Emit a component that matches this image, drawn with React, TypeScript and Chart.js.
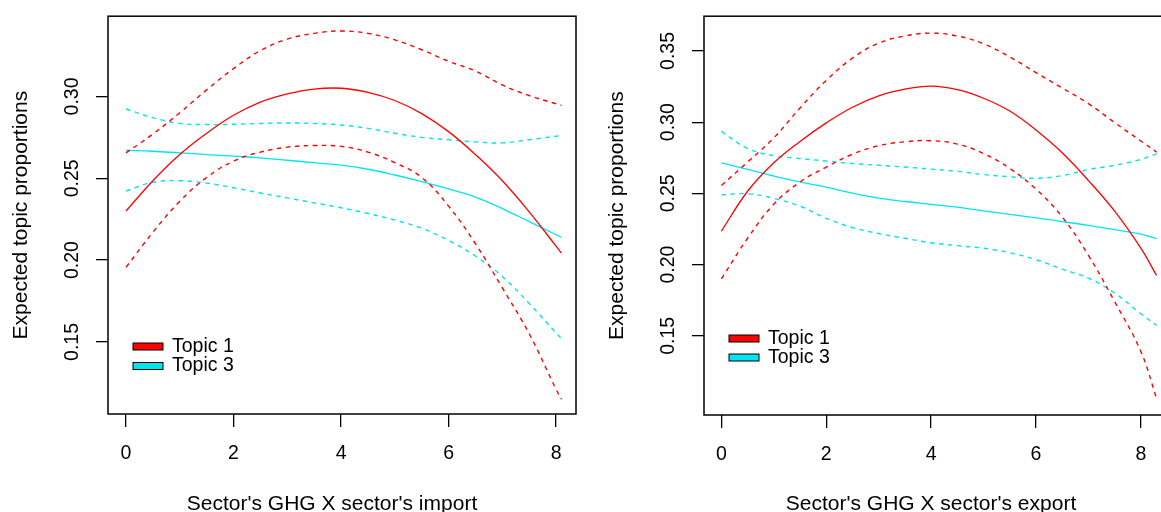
import { useEffect, useRef } from "react";
import { Chart, registerables } from "chart.js";

Chart.register(...registerables);

const FONT = '"Liberation Sans", Arial, Helvetica, sans-serif';

// ---- shared ----
const SERIES_NAMES = ["Topic 1", "Topic 3"];
const SERIES_COLORS = ["#FF0000", "#00E5EE"];
const X_TICKS = [0, 2, 4, 6, 8];
const Y_TITLE = "Expected topic proportions";

// ---- panel 1: import ----
const IMPORT_TITLE = "Sector's GHG X sector's import";
const IMPORT_X_RANGE = [-0.335, 8.37];
const IMPORT_Y_RANGE = [0.106, 0.349];
const IMPORT_Y_TICKS = [0.15, 0.2, 0.25, 0.3];
const IMPORT_X = [0, 0.5, 1, 1.5, 2, 2.5, 3, 3.5, 4, 4.5, 5, 5.5, 6, 6.5, 7, 7.5, 8, 8.1];
const IMPORT_T1_MEAN = [0.230, 0.2485, 0.2645, 0.2775, 0.2885, 0.2965, 0.3015, 0.3045, 0.305, 0.3025, 0.2975, 0.2895, 0.2785, 0.2645, 0.2485, 0.2295, 0.2085, 0.2043];
const IMPORT_T1_UPPER = [0.2655, 0.277, 0.290, 0.304, 0.317, 0.328, 0.335, 0.3385, 0.340, 0.3385, 0.3345, 0.3285, 0.3215, 0.3155, 0.307, 0.3005, 0.2955, 0.2945];
const IMPORT_T1_LOWER = [0.1956, 0.217, 0.236, 0.2505, 0.2605, 0.266, 0.269, 0.270, 0.2695, 0.266, 0.2595, 0.2505, 0.233, 0.210, 0.183, 0.155, 0.121, 0.115];
const IMPORT_T3_MEAN = [0.267, 0.2665, 0.2655, 0.2645, 0.2635, 0.2625, 0.261, 0.2595, 0.258, 0.2555, 0.252, 0.248, 0.2435, 0.2385, 0.2315, 0.2235, 0.2155, 0.2138];
const IMPORT_T3_UPPER = [0.2923, 0.287, 0.2835, 0.2828, 0.283, 0.2835, 0.2838, 0.2835, 0.2825, 0.2805, 0.2775, 0.275, 0.2735, 0.2722, 0.2716, 0.2735, 0.2757, 0.2761];
const IMPORT_T3_LOWER = [0.2422, 0.2475, 0.2485, 0.247, 0.2442, 0.241, 0.238, 0.235, 0.232, 0.2285, 0.2245, 0.2195, 0.212, 0.2025, 0.190, 0.1735, 0.1555, 0.152];

// ---- panel 2: export ----
const EXPORT_TITLE = "Sector's GHG X sector's export";
const EXPORT_X_RANGE = [-0.332, 8.632];
const EXPORT_Y_RANGE = [0.0944, 0.3744];
const EXPORT_Y_TICKS = [0.15, 0.2, 0.25, 0.3, 0.35];
const EXPORT_X = [0, 0.5, 1, 1.5, 2, 2.5, 3, 3.5, 4, 4.5, 5, 5.5, 6, 6.5, 7, 7.5, 8, 8.3];
const EXPORT_T1_MEAN = [0.2235, 0.2515, 0.2715, 0.2865, 0.2995, 0.3105, 0.3185, 0.3232, 0.3253, 0.3228, 0.3168, 0.3078, 0.2945, 0.2785, 0.259, 0.2375, 0.2115, 0.1924];
const EXPORT_T1_UPPER = [0.2556, 0.272, 0.289, 0.310, 0.3293, 0.345, 0.3555, 0.3605, 0.3625, 0.3605, 0.355, 0.3458, 0.3348, 0.324, 0.313, 0.2997, 0.2868, 0.279];
const EXPORT_T1_LOWER = [0.190, 0.2185, 0.2425, 0.258, 0.2684, 0.2775, 0.2835, 0.2862, 0.287, 0.2846, 0.278, 0.2675, 0.253, 0.2335, 0.2065, 0.174, 0.139, 0.106];
const EXPORT_T3_MEAN = [0.2715, 0.2668, 0.2622, 0.258, 0.2544, 0.2502, 0.2467, 0.2443, 0.2423, 0.2403, 0.2377, 0.2352, 0.2328, 0.2302, 0.2275, 0.2245, 0.2214, 0.2182];
const EXPORT_T3_UPPER = [0.2935, 0.2815, 0.2765, 0.2745, 0.2727, 0.271, 0.2697, 0.2685, 0.267, 0.2655, 0.2632, 0.2617, 0.2606, 0.2625, 0.2667, 0.2697, 0.2738, 0.2778];
const EXPORT_T3_LOWER = [0.249, 0.2497, 0.2465, 0.241, 0.2325, 0.226, 0.2218, 0.2185, 0.2153, 0.2133, 0.2115, 0.2083, 0.2035, 0.1968, 0.1905, 0.180, 0.1655, 0.1573];

const CANVAS_H = 520;

type PanelCfg = {
  left: number;
  width: number;
  boxTop: number;
  boxBottom: number;
  boxLeft: number;
  boxRight: number;
  xs: number[];
  series: { mean: number[]; upper: number[]; lower: number[] }[];
  xRange: number[];
  yRange: number[];
  yTicks: number[];
  xTitle: string;
  xTitleShift: number;
  legendRowsFromBottom: number[];
};

const PANELS: PanelCfg[] = [
  {
    left: 0,
    width: 590,
    boxTop: 14,
    boxBottom: 414,
    boxLeft: 108,
    boxRight: 576,
    xs: IMPORT_X,
    series: [
      { mean: IMPORT_T1_MEAN, upper: IMPORT_T1_UPPER, lower: IMPORT_T1_LOWER },
      { mean: IMPORT_T3_MEAN, upper: IMPORT_T3_UPPER, lower: IMPORT_T3_LOWER },
    ],
    xRange: IMPORT_X_RANGE,
    yRange: IMPORT_Y_RANGE,
    yTicks: IMPORT_Y_TICKS,
    xTitle: IMPORT_TITLE,
    xTitleShift: -10,
    legendRowsFromBottom: [67.5, 48],
  },
  {
    left: 596,
    width: 600,
    boxTop: 16,
    boxBottom: 415,
    boxLeft: 108,
    boxRight: 578,
    xs: EXPORT_X,
    series: [
      { mean: EXPORT_T1_MEAN, upper: EXPORT_T1_UPPER, lower: EXPORT_T1_LOWER },
      { mean: EXPORT_T3_MEAN, upper: EXPORT_T3_UPPER, lower: EXPORT_T3_LOWER },
    ],
    xRange: EXPORT_X_RANGE,
    yRange: EXPORT_Y_RANGE,
    yTicks: EXPORT_Y_TICKS,
    xTitle: EXPORT_TITLE,
    xTitleShift: -8,
    legendRowsFromBottom: [76.5, 57.5],
  },
];

const framePlugin = {
  id: "rframe",
  afterDraw(chart: any, _args: any, opts: any) {
    const { ctx, chartArea: a } = chart;
    ctx.save();
    ctx.strokeStyle = "#000";
    ctx.lineWidth = 1.5;
    ctx.strokeRect(a.left, a.top, a.right - a.left, a.bottom - a.top);

    // legend
    ctx.font = `19.5px ${FONT}`;
    ctx.textBaseline = "middle";
    ctx.textAlign = "left";
    SERIES_NAMES.forEach((name, i) => {
      const cy = a.bottom - opts.legendRowsFromBottom[i];
      const bx = a.left + 25;
      ctx.fillStyle = SERIES_COLORS[i];
      ctx.fillRect(bx, cy - 3.5, 30, 7);
      ctx.lineWidth = 1;
      ctx.strokeStyle = "#000";
      ctx.strokeRect(bx, cy - 3.5, 30, 7);
      ctx.fillStyle = "#000";
      ctx.fillText(name, bx + 39, cy);
    });

    // x title
    ctx.font = `21px ${FONT}`;
    ctx.textAlign = "center";
    ctx.fillText(opts.xTitle, (a.left + a.right) / 2 + opts.xTitleShift, 504);
    ctx.restore();
  },
};

function Panel({ cfg }: { cfg: PanelCfg }) {
  const ref = useRef<HTMLCanvasElement>(null);
  useEffect(() => {
    const datasets: any[] = [];
    cfg.series.forEach((s, i) => {
      const color = SERIES_COLORS[i];
      const mk = (vals: number[], dashed: boolean, label: string) => ({
        label,
        data: cfg.xs.map((x, k) => ({ x, y: vals[k] })),
        borderColor: color,
        backgroundColor: color,
        borderWidth: dashed ? 1.4 : 1.3,
        borderDash: dashed ? [4.5, 4.5] : [],
        pointRadius: 0,
        fill: false,
        tension: 0.4,
      });
      datasets.push(mk(s.mean, false, SERIES_NAMES[i]));
      datasets.push(mk(s.upper, true, SERIES_NAMES[i] + " upper"));
      datasets.push(mk(s.lower, true, SERIES_NAMES[i] + " lower"));
    });

    const chart = new Chart(ref.current!, {
      type: "line",
      data: { datasets },
      plugins: [framePlugin],
      options: {
        animation: false,
        responsive: false,
        events: [],
        layout: {
          padding: {
            left: 0,
            top: cfg.boxTop,
            right: cfg.width - cfg.boxRight,
            bottom: 0,
          },
        },
        plugins: {
          legend: { display: false },
          tooltip: { enabled: false },
          rframe: {
            xTitle: cfg.xTitle,
            xTitleShift: cfg.xTitleShift,
            legendRowsFromBottom: cfg.legendRowsFromBottom,
          },
        } as any,
        scales: {
          x: {
            type: "linear",
            min: cfg.xRange[0],
            max: cfg.xRange[1],
            afterBuildTicks: (s: any) => {
              s.ticks = X_TICKS.map((v) => ({ value: v }));
            },
            afterFit: (s: any) => {
              s.height = CANVAS_H - cfg.boxBottom;
            },
            border: { display: false },
            grid: {
              drawOnChartArea: false,
              drawTicks: true,
              tickLength: 13,
              color: "#000",
              lineWidth: 1.3,
            },
            ticks: {
              autoSkip: false,
              maxRotation: 0,
              padding: 14.5,
              color: "#000",
              font: { family: FONT, size: 19.5 },
              callback: (v: any) => String(v),
            },
          },
          y: {
            type: "linear",
            min: cfg.yRange[0],
            max: cfg.yRange[1],
            afterBuildTicks: (s: any) => {
              s.ticks = cfg.yTicks.map((v) => ({ value: v }));
            },
            afterFit: (s: any) => {
              s.width = cfg.boxLeft;
            },
            border: { display: false },
            grid: {
              drawOnChartArea: false,
              drawTicks: true,
              tickLength: 12,
              color: "#000",
              lineWidth: 1.3,
            },
            title: {
              display: true,
              text: Y_TITLE,
              color: "#000",
              font: { family: FONT, size: 21 },
              padding: { top: 8.4, bottom: 0 },
            },
            ticks: {
              autoSkip: false,
              minRotation: 90,
              maxRotation: 90,
              crossAlign: "center",
              padding: 4.5,
              color: "#000",
              font: { family: FONT, size: 19.5 },
              callback: (v: any) => Number(v).toFixed(2),
            },
          },
        },
      } as any,
    });
    return () => chart.destroy();
  }, [cfg]);

  return (
    <canvas
      ref={ref}
      width={cfg.width}
      height={CANVAS_H}
      style={{
        position: "absolute",
        left: cfg.left,
        top: 0,
        width: cfg.width,
        height: CANVAS_H,
      }}
    />
  );
}

export default function App() {
  return (
    <div
      style={{
        position: "fixed",
        left: 0,
        top: 0,
        width: 1161,
        height: 512,
        overflow: "hidden",
        background: "#fff",
      }}
    >
      {PANELS.map((p, i) => (
        <Panel key={i} cfg={p} />
      ))}
    </div>
  );
}
